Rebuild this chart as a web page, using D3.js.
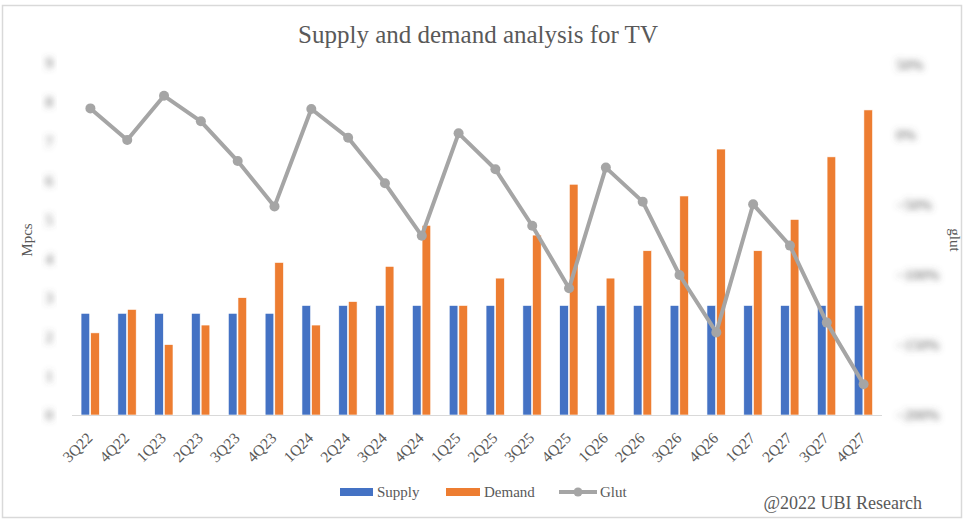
<!DOCTYPE html>
<html>
<head>
<meta charset="utf-8">
<script src="https://cdn.jsdelivr.net/npm/d3@7"></script>
<style>
  html, body { margin: 0; padding: 0; background: #fff; }
  svg { display: block; }
  text { font-family: "Liberation Serif", "Times New Roman", serif; fill: #595959; }
</style>
</head>
<body>
<svg id="chart" width="974" height="520"></svg>
<script>
const categories = ["3Q22","4Q22","1Q23","2Q23","3Q23","4Q23","1Q24","2Q24","3Q24","4Q24","1Q25",
                    "2Q25","3Q25","4Q25","1Q26","2Q26","3Q26","4Q26","1Q27","2Q27","3Q27","4Q27"];
const supply = [2.6,2.6,2.6,2.6,2.6,2.6,2.8,2.8,2.8,2.8,2.8,2.8,2.8,2.8,2.8,2.8,2.8,2.8,2.8,2.8,2.8,2.8];
const demand = [2.1,2.7,1.8,2.3,3.0,3.9,2.3,2.9,3.8,4.85,2.8,3.5,4.6,5.9,3.5,4.2,5.6,6.8,4.2,5.0,6.6,7.8];
const glut = [0.19,-0.036,0.28,0.098,-0.186,-0.51,0.186,-0.02,-0.345,-0.72,0.012,-0.245,-0.648,-1.095,
              -0.233,-0.476,-1.0,-1.41,-0.495,-0.79,-1.34,-1.78];
const leftTicks = [0,1,2,3,4,5,6,7,8,9];
const rightTicks = [0.5,0,-0.5,-1,-1.5,-2];

const svg = d3.select("#chart");

// border
svg.append("rect").attr("x",2.5).attr("y",5.5).attr("width",959).attr("height",512)
  .attr("fill","#fff").attr("stroke","#d9d9d9").attr("stroke-width",1.5);

// blur filter for axis labels (reference labels are blurred)
const defs = svg.append("defs");
defs.append("filter").attr("id","blur").attr("x","-50%").attr("y","-50%").attr("width","200%").attr("height","200%")
  .append("feGaussianBlur").attr("stdDeviation",3);

const plot = {left:72, right:882, top:63, bottom:415};

const x = d3.scaleBand().domain(categories).range([plot.left, plot.right]).padding(0);
const yL = d3.scaleLinear().domain([0,9]).range([plot.bottom, plot.top]);
const yR = d3.scaleLinear().domain([-2,0.5]).range([plot.bottom, plot.top+2]);

// title
svg.append("text").attr("x",478).attr("y",43).attr("text-anchor","middle")
  .style("font-size","25px").text("Supply and demand analysis for TV");

// left axis labels (blurred)
const leftAxis = d3.axisLeft(yL).tickValues(leftTicks).tickSize(0).tickPadding(0).tickFormat(d3.format("d"));
const gL = svg.append("g").attr("transform",`translate(53,0)`).call(leftAxis);
gL.select(".domain").remove();
gL.selectAll("text").attr("filter","url(#blur)").style("font-size","15px")
  .style("font-family","'Liberation Serif', serif").attr("fill","#9a9a9a");

// right axis labels (blurred)
const rightAxis = d3.axisRight(yR).tickValues(rightTicks).tickSize(0).tickPadding(0).tickFormat(d3.format(".0%"));
const gR = svg.append("g").attr("transform",`translate(896,0)`).call(rightAxis);
gR.select(".domain").remove();
gR.selectAll("text").attr("filter","url(#blur)").style("font-size","15px")
  .style("font-family","'Liberation Serif', serif").attr("fill","#9a9a9a");

// axis titles
svg.append("text").attr("transform","translate(32,240) rotate(-90)").attr("text-anchor","middle")
  .style("font-size","15px").text("Mpcs");
svg.append("text").attr("transform","translate(950,240) rotate(90)").attr("text-anchor","middle")
  .style("font-size","15px").text("glut");

// bars
const bw = x.bandwidth();
const barW = bw*0.235;
const gBars = svg.append("g");
gBars.selectAll("rect.s").data(categories).join("rect").attr("class","s")
  .attr("x",(d)=>x(d)+bw/2-barW-0.7).attr("width",barW)
  .attr("y",(d,i)=>yL(supply[i])).attr("height",(d,i)=>yL(0)-yL(supply[i]))
  .attr("fill","#4472c4").attr("stroke","#fff").attr("stroke-width",0.6);
gBars.selectAll("rect.d").data(categories).join("rect").attr("class","d")
  .attr("x",(d)=>x(d)+bw/2+0.3).attr("width",barW)
  .attr("y",(d,i)=>yL(demand[i])).attr("height",(d,i)=>yL(0)-yL(demand[i]))
  .attr("fill","#ed7d31").attr("stroke","#fff").attr("stroke-width",0.6);

// baseline
svg.append("line").attr("x1",plot.left).attr("x2",plot.right).attr("y1",plot.bottom+0.5).attr("y2",plot.bottom+0.5)
  .attr("stroke","#d9d9d9").attr("stroke-width",1.2);

// x labels
const xAxis = d3.axisBottom(x).tickSize(0).tickPadding(0);
const gX = svg.append("g").call(xAxis);
gX.select(".domain").remove();
gX.selectAll(".tick").attr("transform",d=>`translate(${x(d)+bw/2+3},439)`);
gX.selectAll("text").attr("y",0).attr("dy",0).attr("text-anchor","end")
  .attr("transform","rotate(-45)").style("font-size","15.5px")
  .style("font-family","'Liberation Serif', serif").attr("fill","#595959");

// glut line
const line = d3.line().x((d,i)=>x(categories[i])+bw/2).y(d=>yR(d));
svg.append("path").datum(glut).attr("d",line).attr("fill","none")
  .attr("stroke","#a5a5a5").attr("stroke-width",4).attr("stroke-linejoin","round");
svg.append("g").selectAll("circle").data(glut).join("circle")
  .attr("cx",(d,i)=>x(categories[i])+bw/2).attr("cy",d=>yR(d)).attr("r",5)
  .attr("fill","#a5a5a5");

// legend
const lg = svg.append("g");
const ly = 492;
lg.append("rect").attr("x",340).attr("y",ly-4).attr("width",33).attr("height",8).attr("fill","#4472c4");
lg.append("text").attr("x",377).attr("y",ly+5).style("font-size","15px").text("Supply");
lg.append("rect").attr("x",446).attr("y",ly-4).attr("width",34).attr("height",8).attr("fill","#ed7d31");
lg.append("text").attr("x",484).attr("y",ly+5).style("font-size","15px").text("Demand");
lg.append("line").attr("x1",559).attr("x2",597).attr("y1",ly).attr("y2",ly).attr("stroke","#a5a5a5").attr("stroke-width",4);
lg.append("circle").attr("cx",578).attr("cy",ly).attr("r",4.5).attr("fill","#a5a5a5");
lg.append("text").attr("x",600).attr("y",ly+5).style("font-size","15px").text("Glut");

// credit
svg.append("text").attr("x",922).attr("y",509).attr("text-anchor","end")
  .style("font-size","18px").attr("fill","#404040").text("@2022 UBI Research");
</script>
</body>
</html>
